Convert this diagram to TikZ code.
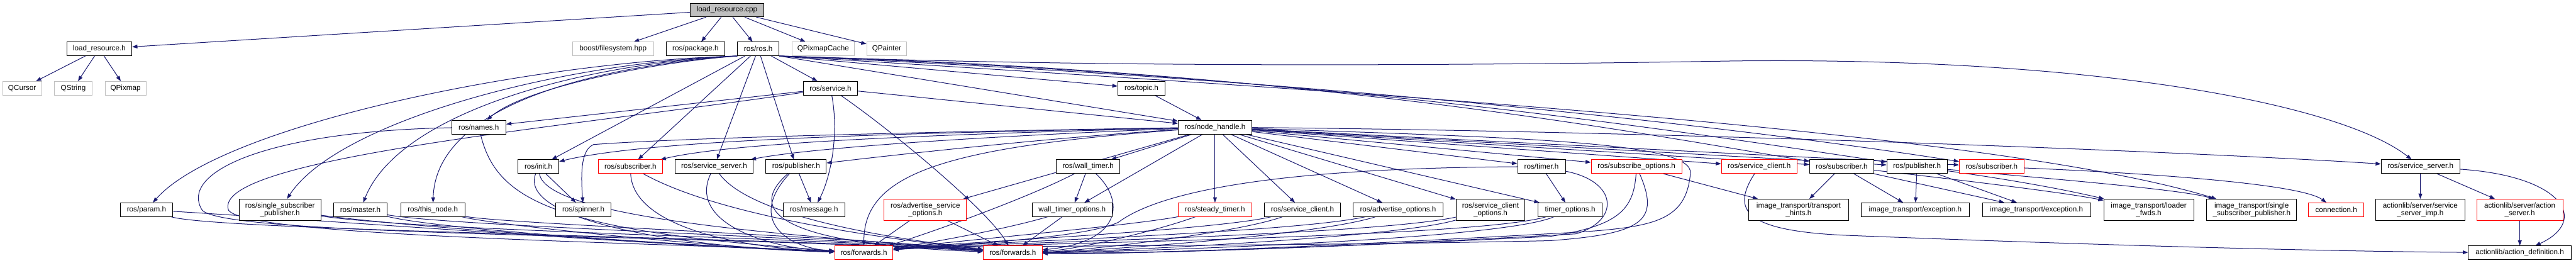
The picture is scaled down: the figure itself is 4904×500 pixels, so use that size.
\documentclass[tikz,border=0pt]{standalone}
\usepackage{fontspec}
\setmainfont{Liberation Sans}
\usetikzlibrary{arrows.meta}
\definecolor{edgecol}{HTML}{191970}
\definecolor{grayfill}{HTML}{BFBFBF}
\definecolor{extcol}{HTML}{BFBFBF}
\pgfdeclarelayer{bg}
\pgfsetlayers{bg,main}
\tikzset{
  box/.style={draw=black, line width=0.55pt, fill=white, inner sep=0pt, align=center,
    font=\fontsize{7pt}{7.2pt}\selectfont},
  trunc/.style={draw=red},
  ext/.style={draw=extcol},
  sz/.style 2 args={minimum width=#1*0.5pt, minimum height=#2*0.5pt},
  dep/.style={draw=edgecol, line width=0.6pt, -{Triangle[length=5pt,width=3.6pt]}},
}
\begin{document}
\begin{tikzpicture}[x=0.5pt,y=-0.5pt]
\useasboundingbox (0,0) rectangle (4904,500);
% ---------- nodes ----------
\node[box,sz={140}{26},fill=grayfill] (lrcpp) at (1384,19) {load\_resource.cpp};
\node[box,sz={124}{26}] (lrh) at (189,93) {load\_resource.h};
\node[box,ext,sz={74}{26}] (qcursor) at (42,168) {QCursor};
\node[box,ext,sz={71}{26}] (qstring) at (139.5,168) {QString};
\node[box,ext,sz={78}{26}] (qpixmap) at (239,168) {QPixmap};
\node[box,ext,sz={154}{26}] (boostfs) at (1167,93) {boost/filesystem.hpp};
\node[box,sz={112}{26}] (package) at (1324,93) {ros/package.h};
\node[box,sz={79}{26}] (rosh) at (1443.5,93) {ros/ros.h};
\node[box,ext,sz={118}{26}] (qpixcache) at (1567,93) {QPixmapCache};
\node[box,ext,sz={76}{26}] (qpainter) at (1688,93) {QPainter};
\node[box,sz={102}{26}] (service) at (1581,168) {ros/service.h};
\node[box,sz={90}{26}] (topic) at (2173,168) {ros/topic.h};
\node[box,sz={103}{26}] (names) at (911.5,242) {ros/names.h};
\node[box,sz={140}{26}] (nh) at (2313,242) {ros/node\_handle.h};
\node[box,sz={100}{26}] (param) at (279,399) {ros/param.h};
\node[box,sz={156}{40}] (ssp) at (533,399) {ros/single\_subscriber\\\_publisher.h};
\node[box,sz={102}{26}] (master) at (686,399) {ros/master.h};
\node[box,sz={122}{26}] (thisnode) at (824,399) {ros/this\_node.h};
\node[box,sz={78}{26}] (init) at (1025,317) {ros/init.h};
\node[box,trunc,sz={122}{26}] (subA) at (1200,317) {ros/subscriber.h};
\node[box,sz={149}{26}] (ssA) at (1359.5,317) {ros/service\_server.h};
\node[box,sz={115}{26}] (pubA) at (1515.5,317) {ros/publisher.h};
\node[box,sz={105}{26}] (spinner) at (1110.5,399) {ros/spinner.h};
\node[box,sz={117}{26}] (message) at (1549.5,399) {ros/message.h};
\node[box,trunc,sz={111}{26}] (fwdA) at (1644.5,481) {ros/forwards.h};
\node[box,sz={121}{26}] (walltimer) at (2071.5,317) {ros/wall\_timer.h};
\node[box,trunc,sz={157}{40}] (advsrvopt) at (1761.5,399) {ros/advertise\_service\\\_options.h};
\node[box,sz={152}{26}] (wtopt) at (2041,399) {wall\_timer\_options.h};
\node[box,trunc,sz={140}{26}] (steady) at (2313,399) {ros/steady\_timer.h};
\node[box,trunc,sz={112}{26}] (fwdB) at (1928,481) {ros/forwards.h};
\node[box,sz={145}{26}] (srvclA) at (2479.5,399) {ros/service\_client.h};
\node[box,sz={171}{26}] (advopt) at (2661.5,399) {ros/advertise\_options.h};
\node[box,sz={131}{40}] (srvclopt) at (2837.5,399) {ros/service\_client\\\_options.h};
\node[box,sz={122}{26}] (timeropt) at (2989,399) {timer\_options.h};
\node[box,sz={91}{26}] (timer) at (2934.5,317) {ros/timer.h};
\node[box,trunc,sz={173}{26}] (subopt) at (3115.5,317) {ros/subscribe\_options.h};
\node[box,trunc,sz={144}{26}] (srvclB) at (3349,317) {ros/service\_client.h};
\node[box,sz={122}{26}] (subB) at (3506,317) {ros/subscriber.h};
\node[box,sz={115}{26}] (pubB) at (3649.5,317) {ros/publisher.h};
\node[box,trunc,sz={123}{26}] (subC) at (3791.5,317) {ros/subscriber.h};
\node[box,sz={190}{40}] (thints) at (3424,399) {image\_transport/transport\\\_hints.h};
\node[box,sz={206}{26}] (excA) at (3646,399) {image\_transport/exception.h};
\node[box,sz={206}{26}] (excB) at (3877,399) {image\_transport/exception.h};
\node[box,sz={171}{40}] (loader) at (4090.5,399) {image\_transport/loader\\\_fwds.h};
\node[box,sz={171}{40}] (itssp) at (4286.5,399) {image\_transport/single\\\_subscriber\_publisher.h};
\node[box,trunc,sz={105}{26}] (connection) at (4447.5,399) {connection.h};
\node[box,sz={150}{26}] (ssB) at (4608,317) {ros/service\_server.h};
\node[box,sz={169}{40}] (ssimp) at (4607.5,399) {actionlib/server/service\\\_server\_imp.h};
\node[box,trunc,sz={164}{40}] (actsrv) at (4797,399) {actionlib/server/action\\\_server.h};
\node[box,sz={196}{26}] (actdef) at (4797,481) {actionlib/action\_definition.h};
% ---------- edges ----------
\begin{pgfonlayer}{bg}
\fill[white] (0,0) rectangle (4904,500);
% load_resource.cpp
\draw[dep] (lrcpp) -- (lrh);
\draw[dep] (lrcpp) -- (boostfs);
\draw[dep] (lrcpp) -- (package);
\draw[dep] (lrcpp) -- (rosh);
\draw[dep] (lrcpp) -- (qpixcache);
\draw[dep] (lrcpp) -- (qpainter);
\draw[dep] (lrh) -- (qcursor);
\draw[dep] (lrh) -- (qstring);
\draw[dep] (lrh) -- (qpixmap);
% ros/ros.h
\draw[dep] (rosh) -- (service);
\draw[dep] (rosh.south east) -- (topic);
\draw[dep] (rosh.south east) -- (nh);
\draw[dep] (rosh.south west) .. controls (1250,118) and (1000,165) .. (names);
\draw[dep] (rosh.south west) .. controls (1000,118) and (420,240) .. (param);
\draw[dep] (rosh.south west) .. controls (1050,120) and (640,235) .. (ssp);
\draw[dep] (rosh.south west) .. controls (1100,122) and (760,215) .. (master);
\draw[dep] (rosh.south west) .. controls (1150,124) and (830,195) .. (thisnode);
\draw[dep] (rosh) -- (init);
\draw[dep] (rosh) -- (subA);
\draw[dep] (rosh) -- (ssA);
\draw[dep] (rosh) -- (pubA);
\draw[dep] (rosh.south east) .. controls (2000,125) and (2600,128) .. (3300,116) .. controls (4000,108) and (4460,200) .. (ssB);
\draw[dep] (rosh.south east) .. controls (2600,175) and (3800,250) .. (itssp);
\draw[dep] (rosh.south east) .. controls (2500,150) and (3300,240) .. (subC);
\draw[dep] (rosh.south east) .. controls (2500,140) and (3200,250) .. (pubB);
\draw[dep] (rosh.south east) .. controls (2500,135) and (3100,250) .. (subB);
% ros/service.h
\draw[dep] (service) -- (names);
\draw[dep] (service) .. controls (1100,240) and (400,300) .. (435,400) .. controls (470,450) and (1200,460) .. (fwdA);
\draw[dep] (service) .. controls (1700,250) and (1880,400) .. (fwdB);
\draw[dep] (service) .. controls (1598,260) and (1580,340) .. (message);
\draw[dep] (service) -- (nh);
\draw[dep] (topic) -- (nh);
% ros/names.h
\draw[dep] (names) .. controls (945,380) and (1050,440) .. (fwdA);
\draw[dep] (names) .. controls (500,250) and (340,330) .. (385,400) .. controls (430,450) and (1300,445) .. (fwdB);
% left column to forwards
\draw[dep] (param) .. controls (700,425) and (1300,470) .. (fwdA);
\draw[dep] (param) .. controls (420,440) and (1500,452) .. (fwdB);
\draw[dep] (ssp) .. controls (800,435) and (1350,470) .. (fwdA);
\draw[dep] (ssp) .. controls (800,440) and (1550,452) .. (fwdB);
\draw[dep] (master) .. controls (850,440) and (1400,472) .. (fwdA);
\draw[dep] (master) .. controls (850,430) and (1550,450) .. (fwdB);
\draw[dep] (thisnode) .. controls (950,430) and (1400,474) .. (fwdA);
\draw[dep] (thisnode) .. controls (950,425) and (1600,450) .. (fwdB);
\draw[dep] (init) -- (spinner);
\draw[dep] (init) .. controls (985,420) and (1300,472) .. (fwdA);
\draw[dep] (init) .. controls (1040,420) and (1550,450) .. (fwdB);
\draw[dep] (subA) .. controls (1205,430) and (1400,472) .. (fwdA);
\draw[dep] (subA) .. controls (1350,400) and (1600,445) .. (fwdB);
\draw[dep] (ssA) .. controls (1310,420) and (1450,472) .. (fwdA);
\draw[dep] (ssA) .. controls (1420,400) and (1620,445) .. (fwdB);
\draw[dep] (pubA) -- (message);
\draw[dep] (pubA) .. controls (1420,420) and (1500,472) .. (fwdA);
\draw[dep] (pubA) .. controls (1420,400) and (1480,465) .. (fwdB);
% ros/node_handle.h
\draw[dep] (nh) .. controls (1800,252) and (1250,262) .. (init);
\draw[dep] (nh) .. controls (1800,255) and (1400,270) .. (subA);
\draw[dep] (nh) .. controls (1900,258) and (1550,280) .. (ssA);
\draw[dep] (nh) .. controls (2000,262) and (1700,295) .. (pubA);
\draw[dep] (nh) .. controls (1800,250) and (1300,262) .. (1130,275) .. controls (1108,285) and (1105,320) .. (spinner);
\draw[dep] (nh) .. controls (1800,280) and (1645,330) .. (fwdA);
\draw[dep] (nh) -- (advsrvopt);
\draw[dep] (nh) -- (walltimer);
\draw[dep] (nh) -- (wtopt);
\draw[dep] (nh) -- (steady);
\draw[dep] (nh) -- (srvclA);
\draw[dep] (nh) -- (advopt);
\draw[dep] (nh) -- (srvclopt);
\draw[dep] (nh) -- (timeropt);
\draw[dep] (nh) -- (timer);
\draw[dep] (nh) -- (subopt);
\draw[dep] (nh) -- (srvclB);
\draw[dep] (nh) -- (subB);
\draw[dep] (nh) -- (pubB);
\draw[dep] (nh) -- (subC);
\draw[dep] (nh) .. controls (3200,250) and (4200,290) .. (ssB);
\draw[dep] (nh) .. controls (2900,262) and (3225,270) .. (3218,330) .. controls (3210,420) and (3150,432) .. (3000,442) .. controls (2500,470) and (2150,485) .. (fwdB);
% timers and options
\draw[dep] (walltimer) -- (wtopt);
\draw[dep] (walltimer) .. controls (1950,380) and (1750,450) .. (fwdA);
\draw[dep] (walltimer) .. controls (2140,380) and (2140,460) .. (fwdB);
\draw[dep] (wtopt) .. controls (1900,440) and (1750,465) .. (fwdA);
\draw[dep] (wtopt) -- (fwdB);
\draw[dep] (advsrvopt) -- (fwdA);
\draw[dep] (advsrvopt) -- (fwdB);
\draw[dep] (steady) .. controls (2150,430) and (1800,460) .. (fwdA);
\draw[dep] (steady) .. controls (2200,440) and (2050,475) .. (fwdB);
\draw[dep] (srvclA) .. controls (2300,440) and (1800,462) .. (fwdA);
\draw[dep] (srvclA) .. controls (2350,445) and (2050,478) .. (fwdB);
\draw[dep] (advopt) .. controls (2450,445) and (1800,463) .. (fwdA);
\draw[dep] (advopt) .. controls (2500,450) and (2050,479) .. (fwdB);
\draw[dep] (srvclopt) .. controls (2600,450) and (1800,464) .. (fwdA);
\draw[dep] (srvclopt) .. controls (2650,455) and (2050,480) .. (fwdB);
\draw[dep] (timeropt) .. controls (2800,455) and (1800,465) .. (fwdA);
\draw[dep] (timeropt) .. controls (2850,460) and (2050,481) .. (fwdB);
\draw[dep] (timer) -- (timeropt);
\draw[dep] (timer) .. controls (2400,320) and (2200,370) .. (2129,423) .. controls (2060,455) and (1800,466) .. (fwdA);
\draw[dep] (timer) .. controls (3080,345) and (3085,420) .. (3000,445) .. controls (2600,468) and (2200,483) .. (fwdB);
\draw[dep] (subopt) .. controls (3110,400) and (3080,430) .. (2950,450) .. controls (2500,472) and (2150,484) .. (fwdB);
\draw[dep] (subopt) .. controls (3160,420) and (3130,445) .. (2950,458) .. controls (2400,470) and (1800,466) .. (fwdA);
\draw[dep] (subopt) -- (thints);
% right part
\draw[dep] (srvclB) .. controls (3295,400) and (3320,440) .. (3520,448) .. controls (3950,465) and (4400,478) .. (actdef);
\draw[dep] (subB) -- (thints);
\draw[dep] (subB) -- (excA);
\draw[dep] (subB) -- (excB);
\draw[dep] (subB) .. controls (3800,350) and (3950,370) .. (loader);
\draw[dep] (pubB) -- (excA);
\draw[dep] (pubB) -- (excB);
\draw[dep] (pubB) .. controls (3850,345) and (3950,365) .. (loader);
\draw[dep] (pubB) .. controls (3900,340) and (4150,360) .. (itssp);
\draw[dep] (subC) .. controls (4100,330) and (4380,350) .. (connection);
\draw[dep] (ssB) -- (ssimp);
\draw[dep] (ssB) -- (actsrv);
\draw[dep] (ssB) .. controls (4880,335) and (4930,420) .. (actdef);
\draw[dep] (actsrv) -- (actdef);
\end{pgfonlayer}
\end{tikzpicture}
\end{document}
